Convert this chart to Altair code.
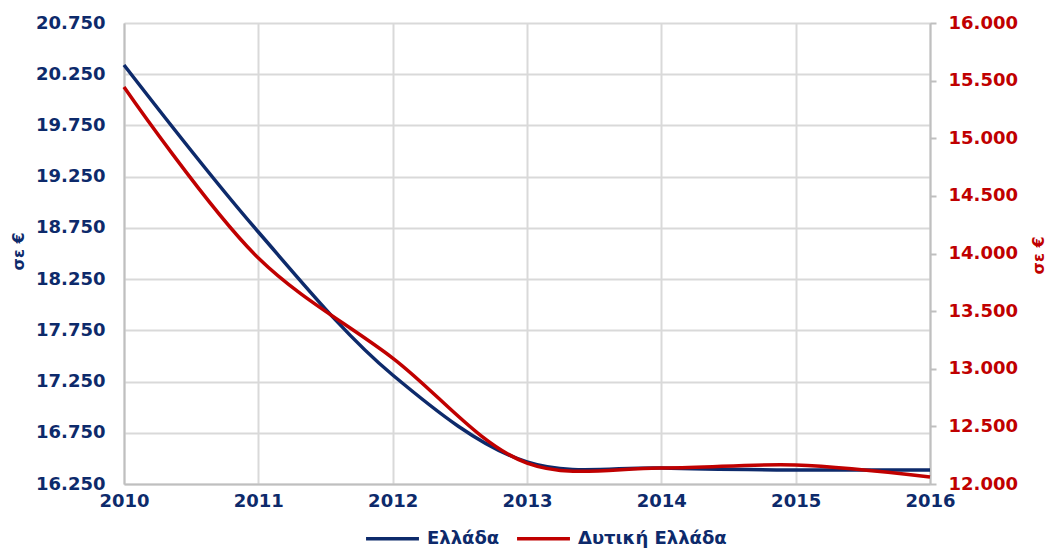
import altair as alt
import pandas as pd

years = [2010, 2011, 2012, 2013, 2014, 2015, 2016]
greece = [20340, 18710, 17314, 16465, 16406, 16387, 16387]
west_greece = [15445, 13961, 13093, 12182, 12139, 12165, 12061]
series_names = ["Ελλάδα", "Δυτική Ελλάδα"]
left_ticks = [16250, 16750, 17250, 17750, 18250, 18750, 19250, 19750, 20250, 20750]
right_ticks = [12000, 12500, 13000, 13500, 14000, 14500, 15000, 15500, 16000]

NAVY = "#0d2a6b"
RED = "#c00000"
FONT = "DejaVu Sans"

df = pd.concat([
    pd.DataFrame({"year": years, "value": greece, "series": series_names[0]}),
    pd.DataFrame({"year": years, "value": west_greece, "series": series_names[1]}),
])

lbl = "replace(format(datum.value, ','), ',', '.')"

color = alt.Color(
    "series:N",
    scale=alt.Scale(domain=series_names, range=[NAVY, RED]),
    legend=alt.Legend(
        title=None, orient="none", direction="horizontal",
        legendX=240, legendY=487,
        symbolType="stroke", symbolSize=2800, symbolStrokeWidth=3.5,
        labelFont=FONT, labelFontSize=18, labelFontWeight="bold", labelColor=NAVY,
        labelOffset=6, columnPadding=10,
    ),
)

x = alt.X(
    "year:Q",
    scale=alt.Scale(domain=[2010, 2016], nice=False),
    axis=alt.Axis(
        values=years, format="d", title=None, labelFont=FONT, labelFontSize=18,
        labelFontWeight="bold", labelColor=NAVY, labelPadding=8, ticks=False,
        domainColor="#bfbfbf", domainWidth=2, gridColor="#d9d9d9", gridWidth=2,
        labelFlush=False,
    ),
)

left = alt.Chart(df).transform_filter(
    alt.datum.series == series_names[0]
).mark_line(interpolate="catmull-rom", strokeWidth=3.5).encode(
    x=x,
    y=alt.Y(
        "value:Q",
        scale=alt.Scale(domain=[16250, 20750], nice=False, zero=False),
        axis=alt.Axis(
            values=left_ticks, labelExpr=lbl, title="σε €", orient="left",
            labelFont=FONT, labelFontSize=18, labelFontWeight="bold", labelColor=NAVY,
            labelPadding=19, ticks=False, domainColor="#bfbfbf", domainWidth=2,
            gridColor="#d9d9d9", gridWidth=2,
            titleFont=FONT, titleFontSize=16, titleFontWeight="bold", titleColor=NAVY,
            titleAngle=270, titleX=-106, titleY=228, titleAlign="center", titleBaseline="middle",
        ),
    ),
    color=color,
)

right = alt.Chart(df).transform_filter(
    alt.datum.series == series_names[1]
).mark_line(interpolate="catmull-rom", strokeWidth=3.5).encode(
    x=x,
    y=alt.Y(
        "value:Q",
        scale=alt.Scale(domain=[12000, 16000], nice=False, zero=False),
        axis=alt.Axis(
            values=right_ticks, labelExpr=lbl, title="σε €", orient="right",
            labelFont=FONT, labelFontSize=18, labelFontWeight="bold", labelColor=RED,
            labelPadding=12, ticks=True, tickSize=6, tickColor="#bfbfbf", tickWidth=2,
            domainColor="#bfbfbf", domainWidth=2, grid=False,
            titleFont=FONT, titleFontSize=16, titleFontWeight="bold", titleColor=RED,
            titleAngle=270, titleX=108, titleY=232, titleAlign="center", titleBaseline="middle",
        ),
    ),
    color=color,
)

chart = alt.layer(left, right).resolve_scale(y="independent").properties(
    width=806, height=461,
    autosize=alt.AutoSizeParams(type="none"),
    padding={"left": 116, "top": 15, "right": 118, "bottom": 70},
).configure_view(stroke=None).configure(background="white")

chart.save("out.html", embed_options={"renderer": "svg", "actions": False})
